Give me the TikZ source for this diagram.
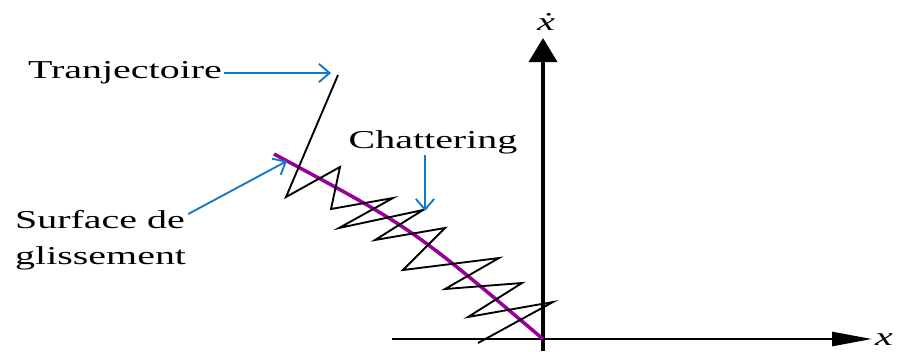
\documentclass[tikz,border=0pt]{standalone}
\usepackage{fontspec}
\setmainfont{Liberation Serif}
\usetikzlibrary{arrows.meta,positioning}
\definecolor{surfpurple}{RGB}{153,0,153}
\definecolor{arrowblue}{RGB}{20,120,200}

\begin{document}
\begin{tikzpicture}[x=0.03cm,y=-0.03cm,
  label/.style={font=\fontsize{22}{31}\selectfont,inner sep=1pt,xscale=1.55},
  pointer/.style={arrowblue,line width=1.6pt,-{Straight Barb[length=0.32cm,width=0.55cm]}},
  zig/.style={black,line width=1.6pt,line join=miter},
  axis/.style={black,line width=3.2pt}]
\useasboundingbox (0,0) rectangle (908,351);
% Axes
\coordinate (O) at (543,339);
\coordinate (xl) at (392,339);
\coordinate (xtip) at (872,339);
\coordinate (yb) at (543,351);
\coordinate (ytip) at (543,38);
\draw[axis,line width=2.2pt,-{Triangle[length=1.2cm,width=0.42cm]}] (xl) -- (xtip);
\draw[axis,-{Triangle[length=0.72cm,width=0.84cm]}] (yb) -- (ytip);
\node[label] (xlab) at (884,340) {\textit{x}};
\node[label] (xdot) at (546,22) {\textit{\.{x}}};
% Sliding surface
\coordinate (s0) at (274,154);
\draw[surfpurple,line width=3pt] (s0) .. controls (412,228) .. (O);
% Trajectory with chattering
\foreach \px/\py [count=\i from 0] in {338/75, 286/197, 340/167, 331/209,
    393/198, 339/228, 423/210, 375/240, 445/228, 403/270, 499/258,
    445/289, 522/283, 468/317, 553/302, 478/343}
  \coordinate (z\i) at (\px,\py);
\draw[zig] (z0) \foreach \i in {1,...,15} {-- (z\i)};
% Labels and pointers
\node[label] (traj) at (125,73) {Tranjectoire};
\node[label] (chat) at (433,142) {Chattering};
\node[label,align=left,anchor=west] (surf) at (13,240) {Surface de\\glissement};
\coordinate (tjtip) at (331,73);
\coordinate (chtip) at (425,211);
\coordinate (sftail) at (189,214);
\coordinate (sftip) at (287,161);
\draw[pointer] (traj.east) -- (tjtip);
\draw[pointer] (chat.south -| chtip) -- (chtip);
\draw[pointer] (surf.east |- sftail) -- (sftip);
\end{tikzpicture}
\end{document}
